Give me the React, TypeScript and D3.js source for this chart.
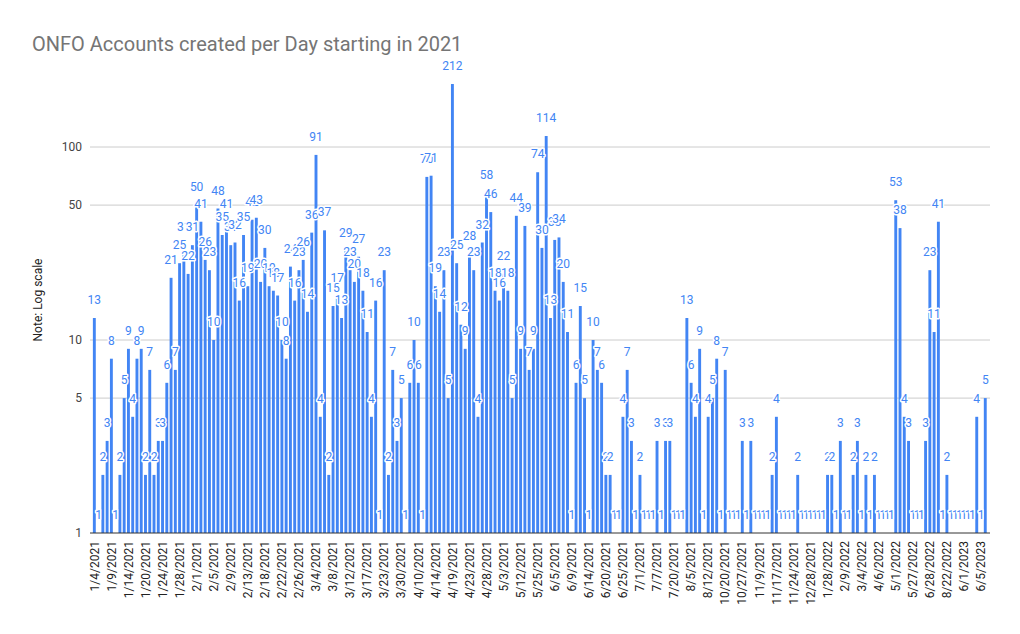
import React from "react";
import * as d3 from "d3";

// one label every 4th day-bar (Google shows every 4th category)
const tickLabels = [
  "1/4/2021", "1/9/2021", "1/14/2021", "1/20/2021", "1/24/2021", "1/28/2021",
  "2/1/2021", "2/5/2021", "2/9/2021", "2/13/2021", "2/18/2021", "2/22/2021",
  "2/26/2021", "3/4/2021", "3/8/2021", "3/12/2021", "3/17/2021", "3/23/2021",
  "3/30/2021", "4/10/2021", "4/14/2021", "4/19/2021", "4/23/2021", "4/28/2021",
  "5/3/2021", "5/12/2021", "5/25/2021", "6/5/2021", "6/9/2021", "6/14/2021",
  "6/20/2021", "6/25/2021", "7/1/2021", "7/7/2021", "7/20/2021", "8/5/2021",
  "8/12/2021", "10/20/2021", "10/27/2021", "11/9/2021", "11/17/2021", "11/24/2021",
  "12/28/2021", "1/28/2022", "2/9/2022", "3/4/2022", "4/6/2022", "5/1/2022",
  "5/27/2022", "6/28/2022", "8/22/2022", "6/1/2023", "6/5/2023",
];
const tickEvery = 4;

// accounts created on each day that had sign-ups
const counts = [
  13, 1, 2, 3, 8, 1, 2, 5, 9, 4, 8, 9, 2, 7, 2, 3, 3,
  6, 21, 7, 25, 31, 22, 31, 50, 41, 26, 23, 10, 48, 35, 41, 31, 32, 16,
  35, 19, 42, 43, 20, 30, 19, 18, 17, 10, 8, 24, 16, 23, 26, 14, 36,
  91, 4, 37, 2, 15, 17, 13, 29, 23, 20, 27, 18, 11, 4, 16, 1, 23, 2,
  7, 3, 5, 1, 6, 10, 6, 1, 70, 71, 19, 14, 23, 5, 212, 25, 12, 9,
  28, 23, 4, 32, 58, 46, 18, 16, 22, 18, 5, 44, 9, 39, 7, 9,
  74, 30, 114, 13, 33, 34, 20, 11, 1, 6, 15, 5, 1, 10, 7, 6, 2, 2,
  1, 1,
  4, 7, 3, 1, 2, 1, 1, 1, 3, 1, 3, 3, 1, 1, 1, 13,
  6, 4, 9, 1, 4, 5, 8, 1, 7, 1, 1, 1, 3, 1, 3, 1, 1, 1, 1,
  2, 4, 1, 1, 1, 1, 2, 1, 1, 1, 1, 1, 1, 2, 2, 1, 3,
  1, 1, 2, 3, 1, 2, 1, 2, 1, 1, 1, 1, 53, 38, 4, 3,
  1, 1, 1, 3, 23, 11, 41, 1, 2, 1, 1, 1, 1, 1, 1, 4, 1, 5,
];

const yTicks = [1, 5, 10, 50, 100];
const gridValues = [5, 10, 50, 100];

const W = 1020;
const H = 634;
const FONT = "Roboto, Arial, sans-serif";
const BLUE = "#4285f4";

export default function App(): React.ReactElement {
  const plotLeft = 90;
  const plotRight = 990;

  const x = d3
    .scaleBand<number>()
    .domain(d3.range(counts.length))
    .range([92.2, 987.4])
    .paddingInner(0.32)
    .paddingOuter(0.16);

  const y = d3.scaleLog().domain([1, 100]).range([533, 147]);
  const base = y(1);

  return (
    <svg
      width={W}
      height={H}
      style={{ position: "absolute", left: 0, top: 0, background: "#fff" }}
      fontFamily={FONT}
    >
      <rect width={W} height={H} fill="#fff" />

      <text x={32} y={51} fontSize={20} fill="#757575">
        ONFO Accounts created per Day starting in 2021
      </text>

      {/* gridlines */}
      {gridValues.map((v) => (
        <line
          key={`g-${v}`}
          x1={plotLeft}
          x2={plotRight}
          y1={y(v)}
          y2={y(v)}
          stroke="#cccccc"
          strokeWidth={1}
        />
      ))}

      {/* y tick labels */}
      {yTicks.map((v) => (
        <text
          key={`yt-${v}`}
          x={82}
          y={y(v)}
          dy="0.35em"
          textAnchor="end"
          fontSize={12}
          fill="#444"
        >
          {v}
        </text>
      ))}

      <text
        transform="translate(42,300) rotate(-90)"
        textAnchor="middle"
        fontSize={12}
        fill="#222"
      >
        Note: Log scale
      </text>

      {/* bars (a count of 1 sits on the log baseline) */}
      {counts.map((v, i) =>
        v > 1 ? (
          <rect
            key={`b-${i}`}
            x={x(i)}
            y={y(v)}
            width={x.bandwidth()}
            height={base - y(v)}
            fill={BLUE}
          />
        ) : null
      )}

      {/* baseline */}
      <line x1={plotLeft} x2={plotRight} y1={base} y2={base} stroke="#333" strokeWidth={1} />

      {/* value labels */}
      {counts.map((v, i) => (
        <text
          key={`l-${i}`}
          x={(x(i) ?? 0) + x.bandwidth() / 2}
          y={y(v) - 14}
          textAnchor="middle"
          fontSize={12}
          fill={BLUE}
          stroke="#fff"
          strokeWidth={3}
          strokeLinejoin="round"
          paintOrder="stroke"
        >
          {v}
        </text>
      ))}

      {/* x tick labels */}
      {tickLabels.map((t, k) => {
        const i = k * tickEvery;
        const cx = (x(i) ?? 0) + x.bandwidth() / 2;
        return (
          <text
            key={`xt-${t}`}
            transform={`translate(${cx},541) rotate(-90)`}
            dy="0.35em"
            textAnchor="end"
            fontSize={12}
            fill="#222"
          >
            {t}
          </text>
        );
      })}
    </svg>
  );
}
